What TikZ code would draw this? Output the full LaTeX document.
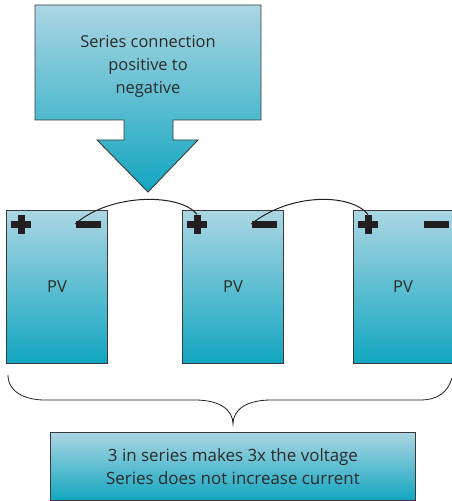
\documentclass[tikz,border=0pt]{standalone}
\usepackage{fontspec}
\setmainfont{Open Sans}
\begin{document}
\begin{tikzpicture}[x=1bp,y=-1bp,
  shadefill/.style={top color=topblue,bottom color=botblue,draw=edgegray,line width=0.9bp},
  panel/.style={shadefill,minimum width=101bp,minimum height=153bp,inner sep=0pt,anchor=north west,font=\fontsize{16.5}{18}\selectfont,text=textgray},
  plussign/.style={minimum width=20bp,minimum height=19bp,inner sep=0pt,
    path picture={\fill[signblack] ([xshift=-10bp,yshift=3.5bp]path picture bounding box.center) rectangle ([xshift=10bp,yshift=-3.5bp]path picture bounding box.center);
                  \fill[signblack] ([xshift=-3.5bp,yshift=9.5bp]path picture bounding box.center) rectangle ([xshift=3.5bp,yshift=-9.5bp]path picture bounding box.center);}},
  minussign/.style={fill=signblack,minimum width=25bp,minimum height=7bp,inner sep=0pt},
  wire/.style={draw=signblack,line width=1bp},
  txt/.style={font=\fontsize{16.5}{23.5}\selectfont,text=textgray,align=center}]
\definecolor{topblue}{HTML}{ABD6E3}
\definecolor{botblue}{HTML}{12A6C0}
\definecolor{edgegray}{HTML}{3A3A3A}
\definecolor{signblack}{HTML}{231F20}
\definecolor{textgray}{HTML}{2B2B2B}
\useasboundingbox (0,0) rectangle (452,501);
% callout arrow
\path[shadefill] (35,5) -- (261,5) -- (261,120) -- (173,120) -- (173,140) -- (198,140)
  -- (148,192) -- (97,140) -- (124,140) -- (124,120) -- (35,120) -- cycle;
\node[txt] (title) at (148,66.5) {Series connection\\positive to\\negative};
% panels
\node[panel] (pv1) at (6,210) {PV};
\node[panel] (pv2) at (182,210) {PV};
\node[panel,minimum width=99bp] (pv3) at (353,210) {PV};
% signs
\node[plussign] (plus1) at (21,224) {};
\node[minussign] (minus1) at (88,224) {};
\node[plussign] (plus2) at (197,224) {};
\node[minussign] (minus2) at (264,224) {};
\node[plussign] (plus3) at (368,224) {};
\node[minussign] (minus3) at (436,224) {};
% wires
\draw[wire] (minus1.west) .. controls (110,193) and (180,193) .. (plus2.north);
\draw[wire] (minus2.west) .. controls (290,193) and (350,193) .. (plus3.north);
% brace
\coordinate (bl) at (8,375);
\coordinate (bt) at (233,424);
\coordinate (br) at (452,378);
\draw[signblack,line width=0.8bp] (bl) .. controls (8,392) and (25,400) .. (45,400)
  -- (195,400) .. controls (220,400) and (233,410) .. (bt)
  .. controls (233,410) and (246,400) .. (271,400)
  -- (420,400) .. controls (438,400) and (448,392) .. (br);
% bottom box
\node[shadefill,minimum width=365bp,minimum height=68bp,inner sep=0pt,anchor=north west] (note) at (50,432) {};
\node[txt,font=\fontsize{17}{23}\selectfont] (notetext) at (note.center) {3 in series makes 3x the voltage\\Series does not increase current};
\end{tikzpicture}
\end{document}
